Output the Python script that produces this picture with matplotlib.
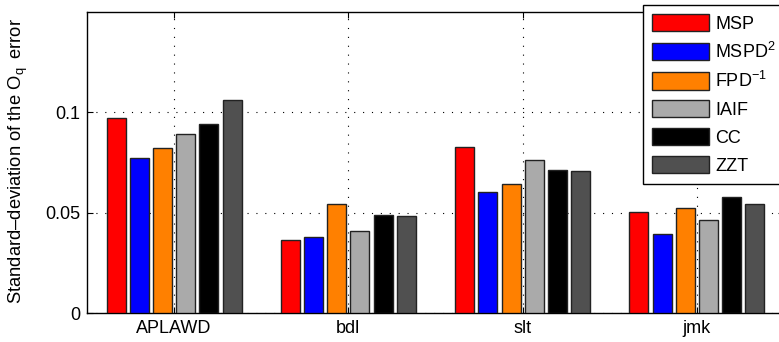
import matplotlib
matplotlib.use("Agg")
import matplotlib.pyplot as plt
import numpy as np

plt.rcParams['font.family'] = ['Liberation Sans', 'DejaVu Sans']
plt.rcParams['mathtext.fontset'] = 'custom'
plt.rcParams['mathtext.rm'] = 'Liberation Sans'
plt.rcParams['mathtext.it'] = 'Liberation Sans:italic'
plt.rcParams['mathtext.default'] = 'regular'

categories = ['APLAWD', 'bdl', 'slt', 'jmk']
methods = ['MSP', 'MSPD$^2$', 'FPD$^{-1}$', 'IAIF', 'CC', 'ZZT']
colors = ['#FF0000', '#0000FF', '#FF8000', '#AAAAAA', '#000000', '#505050']

MSP = [0.0973, 0.0365, 0.0827, 0.0504]
MSPD2 = [0.0771, 0.0378, 0.0603, 0.0393]
FPD1 = [0.0821, 0.0545, 0.0645, 0.0525]
IAIF = [0.0891, 0.0411, 0.0764, 0.0463]
CC = [0.0940, 0.0486, 0.0711, 0.0579]
ZZT = [0.1061, 0.0482, 0.0706, 0.0544]
series = [MSP, MSPD2, FPD1, IAIF, CC, ZZT]

yticks = [0, 0.05, 0.1]
yticklabels = ['0', '0.05', '0.1']

W, H = 779, 342
fig = plt.figure(figsize=(W / 100, H / 100), dpi=100)
ax = fig.add_axes([87 / W, 29 / H, 697 / W, 301 / H])

x = np.arange(1, len(categories) + 1)
pitch = 0.8 / 6
width = 0.109
handles = []
for j, (vals, c, lab) in enumerate(zip(series, colors, methods)):
    b = ax.bar(x + (j - 2.5) * pitch, vals, width=width, color=c,
               edgecolor='#222222', linewidth=1.0, label=lab, zorder=3)
    handles.append(b)

ax.set_xlim(0.5, 4.5)
ax.set_ylim(0, 0.15)
ax.set_xticks(x)
ax.set_xticklabels(categories, fontsize=13)
ax.set_yticks(yticks)
ax.set_yticklabels(yticklabels, fontsize=13)
ax.tick_params(direction='in', length=4, width=0.8, top=True, right=True, pad=5)
ax.grid(True, color='black', linestyle=(0, (1, 7)), linewidth=0.8, zorder=0)
ax.set_axisbelow(True)
for s in ax.spines.values():
    s.set_linewidth(1.0)

ax.set_ylabel('Standard\u2013deviation of the O$_\\mathrm{q}$\u2009 error', fontsize=13.2)
ax.yaxis.set_label_coords(-0.082, 0.505)

leg = fig.legend(handles=handles, labels=methods, loc='upper left',
                 bbox_to_anchor=(643 / W, 1 - 5 / H), fontsize=13,
                 handlelength=3.15, handleheight=1.1, handletextpad=0.35,
                 labelspacing=0.5, borderpad=0.5, borderaxespad=0,
                 fancybox=False, framealpha=1, edgecolor='black')
leg.get_frame().set_linewidth(1.0)

fig.savefig('out.png', dpi=100)
